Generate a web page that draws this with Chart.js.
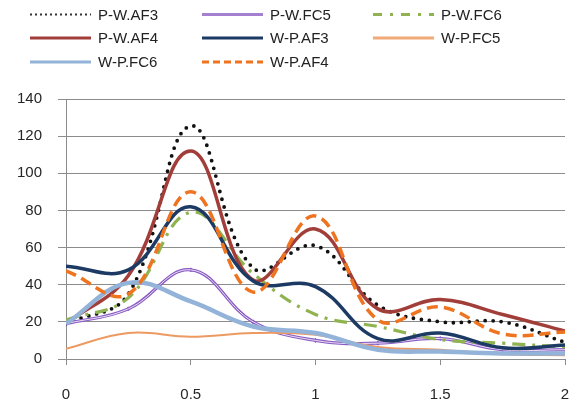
<!DOCTYPE html>
<html>
<head>
<meta charset="utf-8">
<script src="https://cdn.jsdelivr.net/npm/chart.js@4/dist/chart.umd.min.js"></script>
<style>
  html, body { margin: 0; padding: 0; background: #fff; }
  #wrap { width: 578px; height: 402px; position: relative; }
</style>
</head>
<body>
<div id="wrap"><canvas id="c" width="578" height="402"></canvas></div>
<script>
// ---- data ----
const xValues = [0, 0.25, 0.5, 0.75, 1, 1.25, 1.5, 1.75, 2];
const seriesNames = ["P-W.AF3", "P-W.FC5", "P-W.FC6", "P-W.AF4", "W-P.AF3", "W-P.FC5", "W-P.FC6", "W-P.AF4"];
const pwAF3 = [19, 35, 125.5, 49, 61, 29, 20, 20, 9];
const pwFC5 = [19, 27, 48, 20, 10, 8.5, 11, 5, 5];
const pwFC6 = [21, 33, 79, 46, 24, 17.5, 10.5, 8.5, 6.5];
const pwAF4 = [19, 45, 112, 42.5, 70, 27, 32, 24, 15];
const wpAF3 = [50, 48, 82, 42, 39, 11, 14, 6, 7.5];
const wpFC5 = [5.5, 14, 12, 14, 13, 6.5, 5, 2.5, 2];
const wpFC6 = [19, 41, 31, 17.5, 14, 5, 4, 3, 3];
const wpAF4 = [47.5, 35, 90, 36, 77, 21, 28, 13.5, 14.5];
const yTicks = [0, 20, 40, 60, 80, 100, 120, 140];
const xTicks = [0, 0.5, 1, 1.5, 2];

const allValues = [pwAF3, pwFC5, pwFC6, pwAF4, wpAF3, wpFC5, wpFC6, wpAF4];

// ---- styles ----
const styles = [
  { color: "#111111", width: 3.8, dash: [0, 8], cap: "round",
    lColor: "#333333", lWidth: 2, lDash: [2, 3], lCap: "butt" },
  { color: "#8b5cc4", width: 3.2, dash: [], cap: "butt",
    lColor: "#a57fd0", lWidth: 3, lDash: [], lCap: "butt", double: true, marker: "rectRot" },
  { color: "#8fb350", width: 3.2, dash: [13, 7, 3, 7], cap: "butt",
    lColor: "#8fb350", lWidth: 3, lDash: [9, 8, 3, 8], lCap: "butt" },
  { color: "#a23e3a", width: 3.5, dash: [], cap: "butt",
    lColor: "#a23e3a", lWidth: 3, lDash: [], lCap: "butt" },
  { color: "#1c3a63", width: 3.5, dash: [], cap: "butt",
    lColor: "#1c3a63", lWidth: 3, lDash: [], lCap: "butt" },
  { color: "#ec9a62", width: 2, dash: [], cap: "butt",
    lColor: "#f0aa78", lWidth: 3, lDash: [], lCap: "butt" },
  { color: "#94b3d9", width: 4.5, dash: [], cap: "butt",
    lColor: "#94b3d9", lWidth: 3, lDash: [], lCap: "butt" },
  { color: "#ee7420", width: 3.5, dash: [11, 6], cap: "butt",
    lColor: "#ee7420", lWidth: 3, lDash: [7, 4], lCap: "butt" }
];

const FONT = '"Liberation Sans", Arial, sans-serif';

function pts(vals) { return xValues.map((x, i) => ({ x: x, y: vals[i] })); }

const datasets = [];
allValues.forEach((vals, i) => {
  const s = styles[i];
  datasets.push({
    label: seriesNames[i],
    data: pts(vals),
    borderColor: s.color,
    backgroundColor: s.color,
    borderWidth: s.width,
    borderDash: s.dash,
    borderCapStyle: s.cap,
    fill: false,
    tension: 0.4,
    pointRadius: s.marker ? 2 : 0,
    pointStyle: s.marker || "circle",
    pointBorderWidth: 1,
    order: 20 - i * 2
  });
  if (s.double) {
    datasets.push({
      label: seriesNames[i] + "_inner",
      data: pts(vals),
      borderColor: "rgba(255,255,255,0.8)",
      borderWidth: 1,
      fill: false,
      tension: 0.4,
      pointRadius: 0,
      order: 20 - i * 2 - 1
    });
  }
});

const gridLegend = {
  id: "gridLegend",
  afterDraw(chart) {
    const ctx = chart.ctx;
    const cols = [30, 202, 373];
    const rows = [14.5, 38, 62];
    seriesNames.forEach((name, i) => {
      const s = styles[i];
      const x = cols[i % 3], y = rows[Math.floor(i / 3)];
      ctx.save();
      ctx.strokeStyle = s.lColor;
      ctx.lineWidth = s.lWidth;
      ctx.setLineDash(s.lDash);
      ctx.lineCap = s.lCap;
      ctx.beginPath();
      ctx.moveTo(x, y);
      ctx.lineTo(x + 61, y);
      ctx.stroke();
      ctx.setLineDash([]);
      ctx.fillStyle = "#222222";
      ctx.font = "15px " + FONT;
      ctx.textBaseline = "middle";
      ctx.textAlign = "left";
      ctx.fillText(name, x + 68, y + 1);
      ctx.restore();
    });
  }
};

new Chart(document.getElementById("c"), {
  type: "line",
  data: { datasets: datasets },
  options: {
    responsive: false,
    animation: false,
    devicePixelRatio: 1,
    layout: { padding: { top: 99, left: 0, right: 13, bottom: 0 } },
    plugins: { legend: { display: false }, tooltip: { enabled: false } },
    scales: {
      x: {
        type: "linear",
        min: 0, max: 2,
        afterBuildTicks(scale) { scale.ticks = xTicks.map(v => ({ value: v })); },
        afterFit(scale) { scale.height = 43; scale.paddingLeft = 0; scale.paddingRight = 0; },
        grid: { drawOnChartArea: false, drawTicks: true, tickLength: 6, color: "#8c8c8c", lineWidth: 1 },
        border: { display: true, color: "#8c8c8c", width: 1 },
        ticks: { color: "#262626", font: { family: FONT, size: 15 }, padding: 21, maxRotation: 0,
                 callback: (v) => String(v) }
      },
      y: {
        min: 0, max: 140,
        afterBuildTicks(scale) { scale.ticks = yTicks.map(v => ({ value: v })); },
        afterFit(scale) { scale.width = 66; },
        grid: { drawOnChartArea: true, drawTicks: true, tickLength: 8, color: "#8c8c8c", lineWidth: 1 },
        border: { display: true, color: "#8c8c8c", width: 1 },
        ticks: { color: "#262626", font: { family: FONT, size: 15 }, padding: 16,
                 callback: (v) => String(v) }
      }
    }
  },
  plugins: [gridLegend]
});
</script>
</body>
</html>
